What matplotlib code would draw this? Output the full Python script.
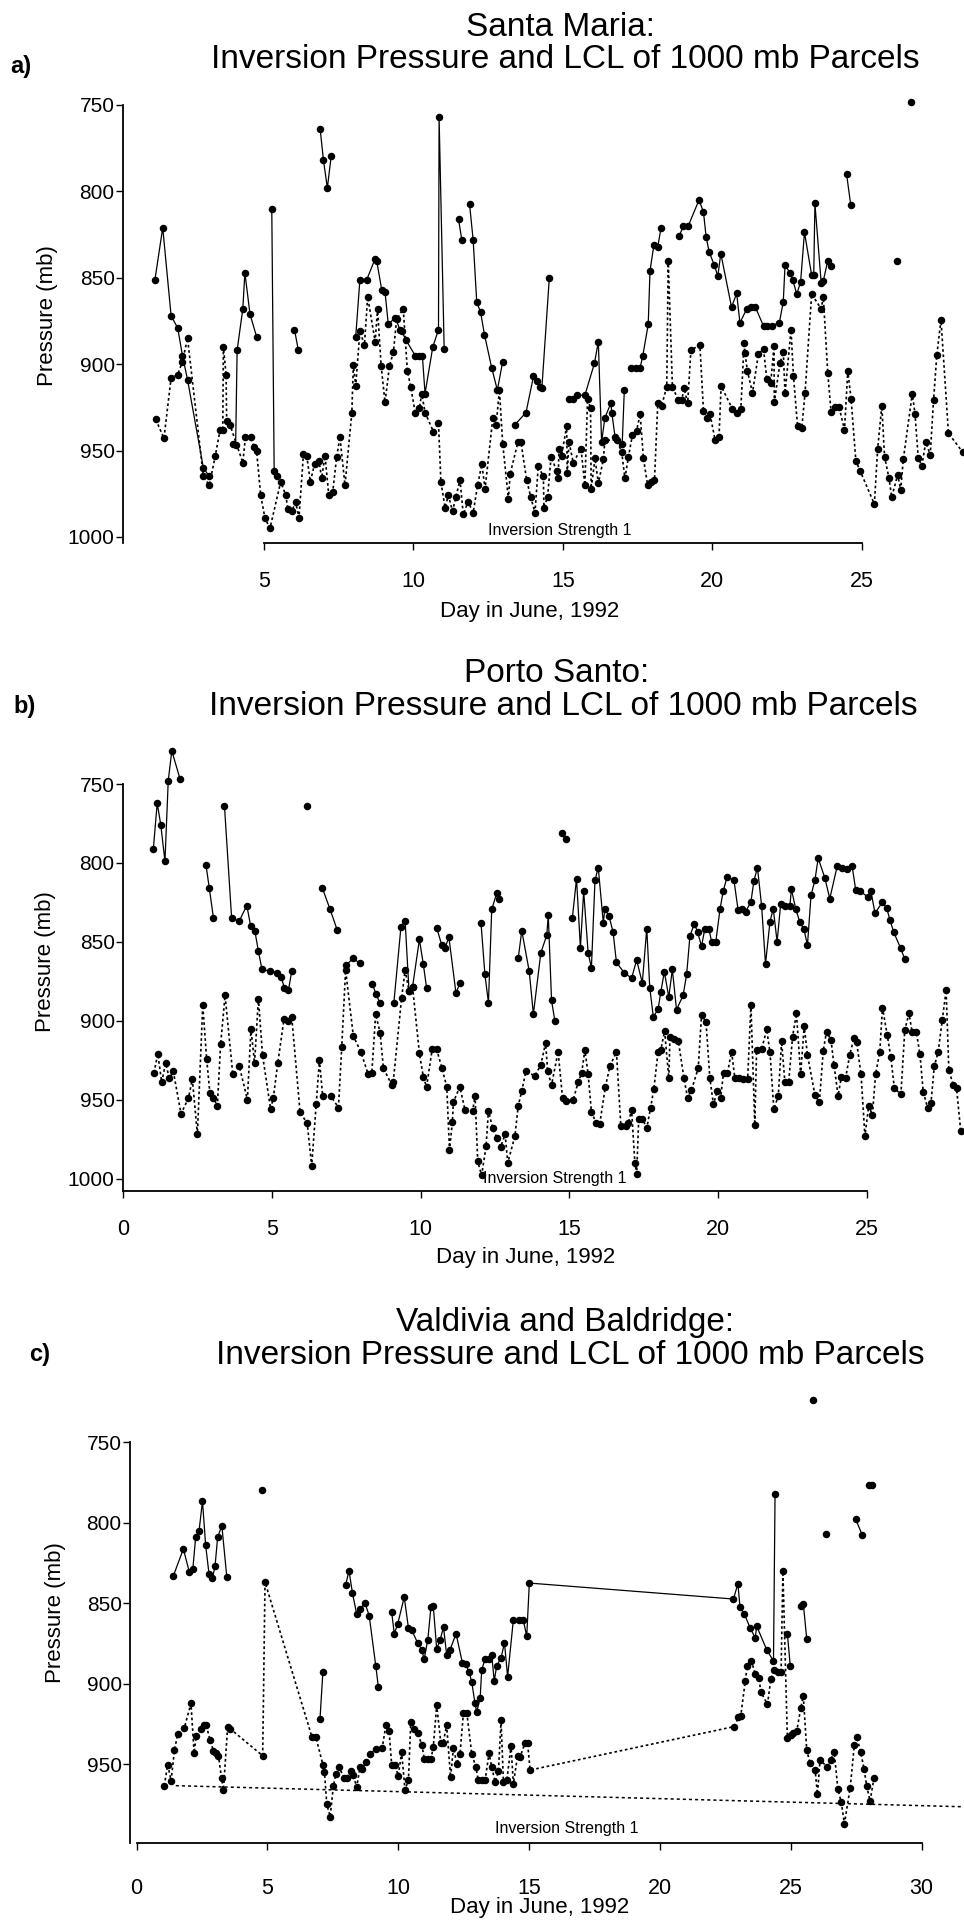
import numpy as np
from matplotlib import pyplot as plt

# figure size in pixels (dpi 100)
W, H = 964, 1925

# ---------------- data ----------------
# None marks a break in the connecting line

# a) Santa Maria
A_INV_DAY = [1.35, 1.61, 1.89, 2.11, 2.27, 2.44, 2.97, 3.17, None,
             3.96, 4.05, 4.10, 4.29, 4.36, 4.53, 4.75, None,
             5.26, 5.34, 5.43, None,
             6.02, 6.15, None,
             6.88, 6.99, 7.12, 7.25, None,
             8.07, 8.21, 8.44, 8.72, 8.77, 8.94, 9.05, 9.16, 9.39, 9.55, 9.61, 9.75,
             10.06, 10.2, 10.3, 10.39, 10.65, 10.84, 10.86, 11.03, None,
             11.51, 11.62, None,
             11.88, 12.0, 12.12, 12.25, 12.38, 12.62, 12.81, 12.99, None,
             13.4, 13.77, 14.02, 14.13, 14.24, 14.3, 14.55, None,
             15.21, 15.35, 15.49, 15.74, 16.06, 16.19, 16.3, 16.41, 16.61, 16.64, 16.75,
             16.99, 17.06, None,
             17.28, 17.45, 17.59, 17.68, 17.86, 17.92, 18.05, 18.18, 18.29, None,
             18.89, 19.04, 19.2, 19.56, 19.71, 19.8, 19.9, 20.07, 20.19, 20.29, 20.65,
             20.82, 20.93, 21.16, 21.3, 21.44, 21.72, 21.85, 21.99, 22.25, 22.38, 22.44,
             22.61, 22.7, 22.83, 22.96, 23.09, 23.33, 23.4, 23.44, 23.65, 23.72, 23.87,
             23.97, None,
             24.5, 24.64, None,
             26.18, None,
             26.65]
A_INV_P = [851, 821, 872, 879, 895, 909, 960, 965, None,
           946, 947, 892, 868, 847, 871, 884, None,
           810, 962, 965, None,
           880, 892, None,
           764, 782, 798, 779.5, None,
           884, 851, 851, 839, 840, 857, 858, 877, 873, 880, 881, 886,
           895, 895, 895, 917, 890, 880, 757, 891, None,
           816, 828, None,
           807.5, 828, 864, 870, 883, 902, 915, 898.5, None,
           935, 928, 907, 910, 913, 914, 850, None,
           920, 920, 918, 918, 899.5, 887, 945, 931, 922.6, 928, 942,
           946, 915, None,
           902, 902, 902, 895, 877, 846, 831, 832, 821, None,
           826, 820, 820, 805, 812, 826.6, 835, 842.6, 849, 836, 867,
           859, 876, 868, 866.7, 866.7, 878, 878, 877.7, 876, 864, 842.6,
           847.4, 851.3, 859.4, 852.6, 823.7, 848.4, 848.4, 807, 853, 852, 840,
           843, None,
           790, 808, None,
           840, None,
           748.5]

A_LCL_DAY = [1.38, 1.65, 1.89, 2.11, 2.27, 2.44, 2.97, 3.17, 3.37, 3.53, 3.62, 3.64, 3.73,
             3.75, 3.86, 4.29, 4.38, 4.55, 4.66, 4.75, 4.89, 5.03, 5.2, 5.56, 5.73, 5.8,
             5.93, 6.06, 6.17, 6.32, 6.43, 6.55, 6.69, 6.84, 6.93, 7.04, 7.17, 7.3, 7.43,
             7.54, 7.71, 7.94, 7.99, 8.07, 8.21, 8.36, 8.47, 8.72, 8.8, 8.92, 9.05, 9.2,
             9.33, 9.44, 9.66, 9.8, 9.91, 10.06, 10.2, 10.28, 10.39, 10.67, 10.84, 10.92,
             11.06, 11.17, 11.31, 11.42, 11.56, 11.67, 11.83, 12.0, 12.15, 12.29, 12.4,
             12.66, 12.77, 12.88, 12.99, 13.18, 13.24, 13.5, 13.6, 13.79, 13.93, 14.07,
             14.18, 14.35, 14.37, 14.49, 14.61, 14.8, 14.85, 14.87, 14.96, 15.13, 15.15,
             15.21, 15.35, 15.61, 15.74, 15.83, 15.93, 15.95, 16.08, 16.19, 16.36, 16.41,
             16.8, 16.97, 17.08, 17.2, 17.33, 17.47, 17.59, 17.7, 17.84, 17.95, 18.07,
             18.18, 18.31, 18.48, 18.53, 18.67, 18.87, 18.98, 19.06, 19.18, 19.29, 19.59,
             19.71, 19.82, 19.93, 20.1, 20.23, 20.3, 20.68, 20.82, 20.96, 21.07, 21.1,
             21.18, 21.35, 21.55, 21.72, 21.83, 21.96, 22.07, 22.08, 22.27, 22.38, 22.44,
             22.64, 22.72, 22.86, 23.0, 23.11, 23.33, 23.65, 23.72, 23.87, 23.98, 24.12,
             24.25, 24.43, 24.54, 24.65, 24.81, 24.95, 25.43, 25.54, 25.68, 25.77, 25.92,
             26.01, 26.21, 26.31, 26.4, 26.7, 26.79, 26.9, 27.02, 27.15, 27.3, 27.41,
             27.52, 27.66, 27.91, 28.39]
A_LCL_P = [932, 943, 908, 906, 898.5, 885, 965, 970, 953, 938, 938, 890, 906,
           933, 935, 957, 942, 942, 948, 950, 976, 989, 995, 968, 976, 984,
           985, 980, 989, 952, 953, 968, 958, 956, 966, 953, 976, 974, 954,
           942, 970, 928, 900.7, 912.6, 880.6, 889, 861, 887, 868, 901, 922, 901,
           893, 874, 868, 904, 913, 928, 925.5, 917, 928, 939, 934, 968,
           983, 976, 985, 977, 967, 987, 979.5, 986, 970, 958, 972,
           931, 935, 915, 946, 978, 963.5, 945, 945, 967, 977, 986,
           959, 965, 983, 977, 953.5, 962, 966, 949, 953, 936, 963,
           945, 957, 949, 970, 920, 925.5, 972, 954.5, 969, 955, 944,
           944, 950.6, 966, 953.5, 941, 938.5, 929, 954.5, 970, 968, 967,
           922.6, 924, 913, 840, 913, 921, 921, 914, 922.6, 891.8, 889,
           927, 931, 929, 944, 942, 912.6, 926, 928, 926, 887.5, 893.7,
           904, 916.5, 894, 891.4, 908.8, 911, 889.5, 922, 899.5, 892.7, 916.9,
           880.2, 906.6, 936, 937, 916.5, 859.4, 868, 861, 905, 927.5, 925,
           925, 938, 904, 920, 956, 961.6, 981, 949, 924, 953.5, 966,
           977, 964, 972.8, 954.9, 917, 928.8, 954.5, 958.7, 945, 952.5, 921,
           894.7, 874.4, 940, 951]

# b) Porto Santo
B_INV_DAY = [1.02, 1.15, 1.27, 1.41, 1.52, 1.64, 1.92, None,
             2.79, 2.9, 3.04, None,
             3.41, 3.65, 3.9, 4.16, 4.29, 4.43, 4.55, 4.67, 4.93, 5.19, 5.31, 5.42, 5.56,
             5.67, None,
             6.17, None,
             6.7, 6.95, 7.2, None,
             7.48, 7.74, 7.96, None,
             8.38, 8.5, 8.64, None,
             9.1, 9.34, 9.48, 9.61, 9.73, 9.96, 10.09, 10.2, None,
             10.54, 10.71, 10.82, 10.95, 11.19, 11.32, None,
             12.03, 12.16, 12.28, 12.39, 12.56, 12.65, None,
             13.28, 13.4, 13.65, 13.79, 14.04, 14.24, 14.29, 14.4, 14.51, None,
             14.74, 14.87, None,
             15.1, 15.24, 15.37, 15.48, 15.63, 15.74, 15.86, 15.97, 16.14, 16.19, 16.33,
             16.47, 16.58, 16.84, 17.09, 17.26, 17.45, 17.6, 17.7, 17.82, 17.98, 18.07,
             18.19, 18.34, 18.46, 18.6, 18.82, 18.94, 19.05, 19.2, 19.31, 19.44, 19.55,
             19.69, 19.78, 19.92, 20.06, 20.17, 20.3, 20.53, 20.67, 20.81, 20.92, 21.1,
             21.2, 21.32, 21.46, 21.59, 21.74, 21.85, 21.98, 22.1, 22.25, 22.41, 22.46,
             22.61, 22.74, 22.88, 23.0, 23.12, 23.25, 23.36, 23.58, 23.75, 24.0, 24.17,
             24.33, 24.5, 24.62, 24.76, 25.02, 25.13, 25.27, 25.51, 25.66, 25.77, 25.9,
             26.13, 26.27]
B_INV_P = [791, 762, 776, 799, 748, 729, 747, None,
           801.5, 816, 835, None,
           764, 835, 837, 827, 840, 843, 856, 867.5, 868.6, 869.6, 872, 879, 880.6,
           868.6, None,
           764, None,
           816, 829, 842.6, None,
           865, 860.5, 863.7, None,
           876.8, 883, 889, None,
           889, 840.5, 836.7, 881, 878.5, 848.5, 864, 879, None,
           841, 852, 854, 847, 882.7, 876, None,
           838, 870.5, 888.6, 829.5, 819, 822.6, None,
           860.5, 843, 868.6, 895.8, 857, 845.8, 833, 887, 900, None,
           781, 785, None,
           834.8, 810, 853.8, 818, 857, 866.5, 811, 803, 838, 829.5, 833.5,
           844, 863, 869.6, 873, 861.6, 876, 841.6, 879, 897.5, 892.8, 882,
           869, 885, 867.5, 893, 884, 870.7, 846.4, 838.4, 844, 852.7, 842,
           842, 850, 850, 829.5, 817.7, 808.9, 811, 830, 829, 831, 824.7,
           811.4, 803, 827.4, 864, 837.3, 829, 850, 826, 827, 827, 816.7,
           829.5, 837.3, 842, 852, 820.5, 811, 797, 809.3, 822.6, 802, 803.5,
           804, 802, 817, 817.7, 821.5, 817.7, 832, 825, 828.5, 836, 844,
           854, 861]

B_LCL_DAY = [1.04, 1.17, 1.3, 1.43, 1.56, 1.69, 1.95, 2.2, 2.33, 2.5, 2.68, 2.81, 2.92,
             3.04, 3.17, 3.28, 3.43, 3.69, 3.91, 4.18, 4.3, 4.42, 4.55, 4.69, 4.96, 5.05,
             5.2, 5.41, 5.54, 5.67, 5.95, 6.19, 6.34, 6.49, 6.6, 6.71, 6.98, 7.24, 7.35,
             7.48, 7.74, 7.99, 8.24, 8.36, 8.49, 8.64, 8.75, 9.03, 9.08, 9.36, 9.48, 9.61,
             9.73, 9.96, 10.09, 10.2, 10.39, 10.54, 10.71, 10.88, 10.97, 11.07, 11.1,
             11.32, 11.49, 11.75, 11.83, 11.92, 12.05, 12.2, 12.28, 12.42, 12.56, 12.69,
             12.84, 12.93, 13.17, 13.28, 13.4, 13.54, 13.84, 14.04, 14.2, 14.27, 14.4,
             14.62, 14.77, 14.87, 15.13, 15.3, 15.41, 15.52, 15.63, 15.74, 15.89, 16.02,
             16.21, 16.36, 16.58, 16.73, 16.89, 16.98, 17.09, 17.2, 17.26, 17.33, 17.45,
             17.6, 17.73, 17.84, 17.98, 18.07, 18.2, 18.34, 18.38, 18.52, 18.66, 18.85,
             18.97, 19.1, 19.33, 19.44, 19.59, 19.72, 19.84, 19.97, 20.08, 20.18, 20.31,
             20.45, 20.56, 20.7, 20.85, 20.99, 21.1, 21.23, 21.29, 21.46, 21.63, 21.74,
             21.87, 22.02, 22.13, 22.24, 22.37, 22.5, 22.63, 22.77, 22.89, 23.0, 23.25,
             23.4, 23.53, 23.64, 23.79, 23.89, 24.03, 24.14, 24.28, 24.42, 24.56, 24.65,
             24.8, 24.93, 25.06, 25.18, 25.29, 25.43, 25.52, 25.68, 25.8, 25.92, 26.14,
             26.27, 26.41, 26.52, 26.66, 26.78, 26.89, 27.04, 27.15, 27.26, 27.39, 27.53,
             27.66, 27.75, 27.9, 28.01, 28.15]
B_LCL_P = [933, 921, 939, 927, 936.5, 932, 959, 949, 937, 972, 890, 924, 946,
           949, 954, 915, 884, 934, 929, 950, 905, 927, 886, 922, 956, 949,
           927, 899, 900, 897.5, 958, 965, 992, 953, 925, 947.7, 947.7, 955, 916.5,
           868, 909.7, 919.6, 934, 933, 896, 907.6, 930, 940.7, 939, 885.9, 868, 881,
           878.5, 920.7, 935.4, 942, 918, 918, 929.7, 941.8, 982, 964, 951.7,
           941.8, 956.5, 957, 947.7, 989, 998, 979.7, 957, 968, 974, 980,
           972, 990, 973, 954, 944.5, 932, 935, 928, 914, 932, 940.7,
           919.6, 949, 951, 950, 938.6, 933.3, 918.6, 934, 957.6, 964.6, 965.4,
           941.8, 929, 919.6, 967, 967, 965, 956.5, 990, 997, 962, 962,
           968, 955, 943, 919.6, 918.6, 906.5, 936.5, 910, 911.8, 912.7, 936.5,
           948.7, 944, 930, 896.4, 900.6, 936.5, 953, 944.5, 949, 933, 933.3,
           919.6, 936.5, 936.5, 937, 937, 890, 966, 918.6, 918, 905.5, 920,
           956, 947.7, 913, 938.6, 938.6, 910, 895.4, 934, 903.4, 921.7, 947,
           951.7, 919, 907, 912, 928, 947.5, 935.4, 936.5, 921.7, 911, 913.3,
           934, 973, 953.8, 959.7, 934, 919.6, 891.8, 909, 923, 942.8, 946.6,
           906, 895.4, 907.4, 907.4, 921.3, 945, 955.5, 952.3, 929, 920, 899.6,
           880.6, 931, 941, 942.8, 970]

# c) Valdivia and Baldridge
C_INV_DAY = [1.41, 1.79, 2.02, 2.15, 2.26, 2.39, 2.52, 2.64, 2.77, 2.9, 3.0, 3.1, 3.26,
             3.45, None,
             4.78, None,
             7.01, 7.12, None,
             7.99, 8.12, 8.25, 8.41, 8.54, 8.73, 8.89, 9.14, 9.24, None,
             9.75, 9.85, 9.98, 10.23, 10.39, 10.52, 10.75, 10.9, 10.99, 11.13, 11.25,
             11.34, 11.47, 11.6, 11.73, 11.85, 11.98, 12.21, 12.45, 12.58, 12.71, 12.81,
             12.93, 13.0, 13.13, 13.19, 13.32, 13.45, 13.57, 13.67, 13.76, 13.93, 14.06,
             14.18, 14.4, 14.6, 14.78, 14.91, 15.01, 22.81, 22.98, 23.06, 23.23, 23.45,
             23.64, 23.7, 24.08, 24.34, 24.4, None,
             24.87, 24.98, None,
             25.38, 25.48, 25.61, None,
             25.84, None,
             26.34, None,
             27.48, 27.74, None,
             28.0, 28.1]
C_INV_P = [833, 816.4, 831, 829, 809, 805, 786.7, 814, 832, 834.5, 827, 809, 802,
           834, None,
           779.5, None,
           922, 893, None,
           838.7, 830, 843.8, 856.6, 854, 850, 857.8, 888.8, 902, None,
           855.8, 869, 863, 846.3, 865.5, 867, 875, 878.9, 885, 872.7, 852.5,
           852, 878.4, 873, 865, 882, 879, 869, 887, 888, 893, 899,
           912, 917.6, 909, 891.6, 884.6, 884.6, 882, 898.5, 889, 884, 874.7,
           895.8, 860.3, 860.5, 860.7, 870.6, 837.6, 847.5, 838, 852.5, 857, 865.5,
           871.6, 864.4, 879, 886, 782, None,
           869, 888.8, None,
           851.6, 850.4, 872.3, None,
           724, None,
           807, None,
           798, 808, None,
           776.8, 776.4]

C_LCL_DAY = [1.06, 1.19, 1.32, 1.45, 1.57, 1.83, 2.08, 2.2, 2.28, 2.47, 2.57, 2.66, 2.81,
             2.94, 3.04, 3.13, 3.25, 3.32, 3.48, 3.57, 4.82, 4.91, 6.7, 6.85, 7.12, 7.18,
             7.27, 7.4, 7.52, 7.62, 7.75, 7.93, 8.06, 8.18, 8.29, 8.41, 8.54, 8.63, 8.77,
             8.92, 9.14, 9.39, 9.53, 9.65, 9.75, 9.88, 10.0, 10.13, 10.26, 10.39, 10.48,
             10.62, 10.75, 10.9, 11.0, 11.13, 11.25, 11.34, 11.47, 11.63, 11.72, 11.85,
             12.0, 12.11, 12.24, 12.36, 12.49, 12.62, 12.81, 12.97, 13.06, 13.19, 13.32,
             13.47, 13.57, 13.7, 13.83, 13.93, 14.02, 14.15, 14.31, 14.4, 14.56, 14.66,
             14.85, 14.94, 15.04, 22.84, 23.0, 23.09, 23.26, 23.34, 23.49, 23.64, 23.79,
             23.85, 24.11, 24.24, 24.36, 24.5, 24.63, 24.7, 24.87, 25.0, 25.1, 25.23,
             25.38, 25.48, 25.61, 25.74, 25.93, 26.02, 26.12, 26.4, 26.53, 26.66, 26.8,
             26.93, 27.05, 27.27, 27.43, 27.52, 27.67, 27.8, 27.9, 28.03, 28.18]
C_LCL_P = [963.4, 950.4, 960.3, 941.3, 931.4, 927.3, 912.3, 943.2, 932.5, 928, 925.7, 925.7, 935,
           941.8, 943, 944.8, 958.9, 966, 927, 928, 944.8, 837, 933, 933, 950.4, 954.7,
           975, 982.6, 963.8, 956, 952, 958.9, 958.9, 954, 957, 964.4, 952, 953, 948.6,
           943.8, 940.7, 939.7, 925.9, 929.4, 950.6, 950.6, 957.2, 942.8, 966, 960, 923.6,
           928, 931, 938, 947, 947, 946.9, 939.3, 913.5, 937, 936.6, 925.9,
           958.2, 939.7, 950, 943.8, 918.5, 918, 943.8, 952, 960, 960, 960,
           943.2, 951.6, 961, 954.5, 922.8, 961.3, 960, 938.7, 962.4, 944.8, 945.5,
           936.6, 936.6, 953.7, 926.7, 921, 920, 898.5, 888.8, 885.7, 894, 896.4,
           905, 912.9, 897, 891.8, 892.7, 892.7, 830.4, 934, 932, 930.5, 929.4,
           915.4, 907.7, 941.3, 949.6, 953.7, 968.6, 947.3, 952, 947.3, 942.2, 965.5,
           973.7, 987, 964.8, 938.2, 933, 942.4, 953, 963.4, 973, 958.7]

# inversion strength 1 reference line (only visible in panel c)
C_ISL_DAY = [1.5, 31.6]
C_ISL_P = [963.4, 976.5]

TITLE_2 = "Inversion Pressure and LCL of 1000 mb Parcels"

plt.rcParams['font.family'] = ['Liberation Sans', 'DejaVu Sans']


def rect(left, top, right, bottom):
    # pixel box -> figure fraction
    return [left / W, 1 - bottom / H, (right - left) / W, (bottom - top) / H]


def arr(vals):
    return np.array([np.nan if v is None else v for v in vals], dtype=float)


def panel(fig, box, xlim, ybottom, xbounds, xticks, yticks, inv, lcl, xpad):
    ax = fig.add_axes(rect(*box))
    ax.set_xlim(*xlim)
    ax.set_ylim(ybottom, 750)
    ax.plot(arr(inv[0]), arr(inv[1]), color='black', lw=0.9, ls='-',
            marker='o', ms=4.4, mfc='black', mec='black', clip_on=False)
    ax.plot(arr(lcl[0]), arr(lcl[1]), color='black', lw=1.2, ls=(0, (1.6, 1.6)),
            marker='o', ms=4.4, mfc='black', mec='black', clip_on=False)
    for s in ['top', 'right']:
        ax.spines[s].set_visible(False)
    ax.spines['left'].set_bounds(750, ybottom)
    ax.spines['bottom'].set_bounds(*xbounds)
    ax.spines['left'].set_linewidth(1.3)
    ax.spines['bottom'].set_linewidth(1.3)
    ax.set_xticks(xticks)
    ax.set_yticks(yticks)
    ax.tick_params(axis='y', length=5, width=1, pad=1, labelsize=15)
    ax.tick_params(axis='x', length=5, width=1, pad=xpad, labelsize=15.5)
    return ax


fig = plt.figure(figsize=(W / 100, H / 100), dpi=100)

def ftext(x, y, s, **kw):
    fig.text(x / W, 1 - y / H, s, ha='center', va='center', **kw)

# ---- a) ----
panel(fig, (123, 105, 964, 543), (0.28, 28.43), 1003.5, (5, 25),
      [5, 10, 15, 20, 25], [750, 800, 850, 900, 950, 1000],
      (A_INV_DAY, A_INV_P), (A_LCL_DAY, A_LCL_P), 15)
ftext(21, 66, "a)", fontsize=17, fontweight='bold')
ftext(560, 28, "Santa Maria:", fontsize=24)
ftext(565, 60, TITLE_2, fontsize=24)
ftext(48, 316, "Pressure (mb)", fontsize=16, rotation=90)
ftext(530, 612, "Day in June, 1992", fontsize=16)
ftext(560, 531, "Inversion Strength 1", fontsize=11.5)

# ---- b) ----
panel(fig, (123, 784, 964, 1191), (0, 28.26), 1007.9, (0, 25),
      [0, 5, 10, 15, 20, 25], [750, 800, 850, 900, 950, 1000],
      (B_INV_DAY, B_INV_P), (B_LCL_DAY, B_LCL_P), 15)
ftext(25, 707, "b)", fontsize=17, fontweight='bold')
ftext(557, 674, "Porto Santo:", fontsize=24)
ftext(563, 706, TITLE_2, fontsize=24)
ftext(46, 962, "Pressure (mb)", fontsize=16, rotation=90)
ftext(526, 1258, "Day in June, 1992", fontsize=16)
ftext(555, 1178, "Inversion Strength 1", fontsize=11.5)

# ---- c) ----
axc = panel(fig, (130, 1442, 964, 1843), (-0.25, 31.62), 999, (0, 30),
            [0, 5, 10, 15, 20, 25, 30], [750, 800, 850, 900, 950],
            (C_INV_DAY, C_INV_P), (C_LCL_DAY, C_LCL_P), 20)
axc.plot(C_ISL_DAY, C_ISL_P, color='black', lw=1.1, ls=(0, (2, 2)), clip_on=False)
ftext(40, 1355, "c)", fontsize=17, fontweight='bold')
ftext(565, 1323, "Valdivia and Baldridge:", fontsize=24)
ftext(570, 1356, TITLE_2, fontsize=24)
ftext(56, 1613, "Pressure (mb)", fontsize=16, rotation=90)
ftext(540, 1907, "Day in June, 1992", fontsize=16)
ftext(567, 1829, "Inversion Strength 1", fontsize=11.5)

fig.savefig("out.png", dpi=100)
